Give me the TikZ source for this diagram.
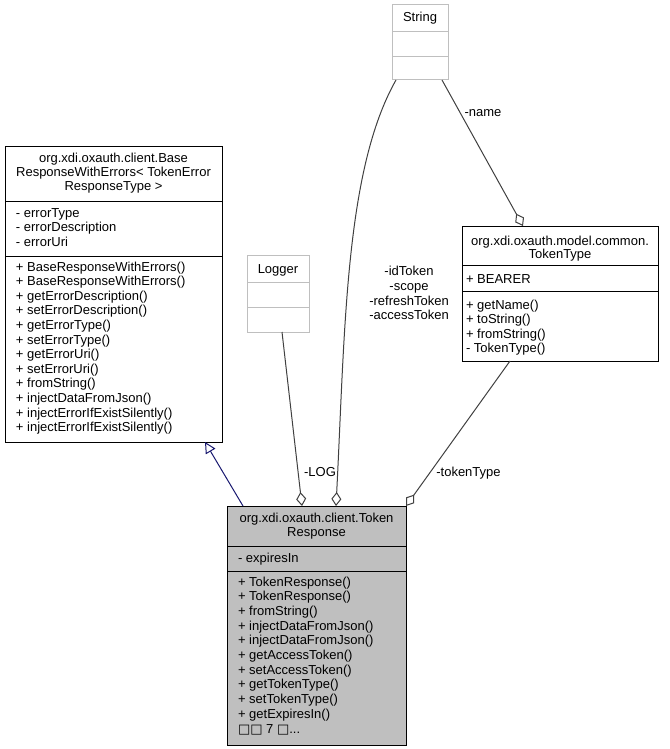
\documentclass[tikz,border=0pt]{standalone}
\usepackage{fontspec}
\setmainfont{Liberation Sans}
\newfontfamily\symfont{DejaVu Sans}
\usetikzlibrary{arrows.meta,calc}
\definecolor{edgegray}{HTML}{404040}
\definecolor{navyline}{HTML}{191970}
\definecolor{lightframe}{HTML}{BFBFBF}
\definecolor{trfill}{HTML}{BFBFBF}
\begin{document}
\begin{tikzpicture}[x=1pt,y=-1pt,
  every node/.style={inner sep=0pt, outer sep=0pt},
  txt/.style={font=\fontsize{13}{14.6}\selectfont, anchor=base west},
  ctxt/.style={font=\fontsize{13}{14.6}\selectfont, anchor=base},
  classbox/.style={draw=black, fill=white, line width=1pt, rectangle},
  extbox/.style={draw=lightframe, fill=white, line width=1pt, rectangle},
  sepline/.style={draw=black, line width=1pt},
  extsep/.style={draw=lightframe, line width=1pt},
  comp/.style={draw=edgegray, line width=1pt, -{Diamond[fill=white,length=14pt,width=10pt]}},
  inherit/.style={draw=navyline, line width=1pt, -{Triangle[fill=white,length=11pt,width=11pt]}}
]
\useasboundingbox (0,0) rectangle (669,749);

% ---------- class boxes ----------
\node[classbox, minimum width=217pt, minimum height=296pt] (base) at (113.5,294) {};
\node[classbox, fill=trfill, minimum width=179pt, minimum height=239pt] (tr) at (316.5,625.5) {};
\node[extbox, minimum width=56pt, minimum height=75pt] (string) at (420,42.5) {};
\node[extbox, minimum width=62pt, minimum height=77pt] (logger) at (278,293.5) {};
\node[classbox, minimum width=196pt, minimum height=135pt] (tt) at (560,293.5) {};

% ---------- separators ----------
\draw[sepline] (5,201) -- (222,201);
\draw[sepline] (5,256) -- (222,256);
\draw[sepline] (227,546) -- (406,546);
\draw[sepline] (227,571) -- (406,571);
\draw[extsep] (392,32) -- (448,32);
\draw[extsep] (392,57) -- (448,57);
\draw[extsep] (247,282) -- (309,282);
\draw[extsep] (247,307) -- (309,307);
\draw[sepline] (462,265) -- (658,265);
\draw[sepline] (462,291) -- (658,291);

% ---------- Base class texts ----------
\node[ctxt] (bh1) at (113.5,162.5) {org.xdi.oxauth.client.Base};
\node[ctxt] (bh2) at (113.5,176.5) {ResponseWithErrors< TokenError};
\node[ctxt] (bh3) at (113.5,190.5) {ResponseType >};
\foreach [count=\i] \t in {- errorType, - errorDescription, - errorUri}
  \node[txt] (ba\i) at (16,{217+14.5*(\i-1)}) {\t};
\foreach [count=\i] \t in {+ BaseResponseWithErrors(), + BaseResponseWithErrors(),
  + getErrorDescription(), + setErrorDescription(), + getErrorType(),
  + setErrorType(), + getErrorUri(), + setErrorUri(), + fromString(),
  + injectDataFromJson(), + injectErrorIfExistSilently(), + injectErrorIfExistSilently()}
  \node[txt] (bm\i) at (16,{271+14.6*(\i-1)}) {\t};

% ---------- TokenResponse texts ----------
\node[ctxt] (th1) at (316.5,522) {org.xdi.oxauth.client.Token};
\node[ctxt] (th2) at (316.5,536.5) {Response};
\node[txt] (ta1) at (238,562.5) {- expiresIn};
\foreach [count=\i] \t in {+ TokenResponse(), + TokenResponse(), + fromString(),
  + injectDataFromJson(), + injectDataFromJson(), + getAccessToken(),
  + setAccessToken(), + getTokenType(), + setTokenType(), + getExpiresIn()}
  \node[txt] (tm\i) at (238,{586+14.7*(\i-1)}) {\t};
\node[txt] (tmore) at (238,733) {{\symfont □□} 7 {\symfont □}...};

% ---------- String / Logger ----------
\node[ctxt] (st) at (420,22) {String};
\node[ctxt] (lg) at (278,273) {Logger};

% ---------- TokenType texts ----------
\node[ctxt] (yh1) at (560,245) {org.xdi.oxauth.model.common.};
\node[ctxt] (yh2) at (560,258.5) {TokenType};
\node[txt] (ya1) at (466,283.5) {+ BEARER};
\foreach [count=\i] \t in {+ getName(), + toString(), + fromString(), - TokenType()}
  \node[txt] (ym\i) at (466,{309.5+14.3*(\i-1)}) {\t};

% ---------- connectors ----------
\draw[inherit] ($(tr.north west)+(16,0)$) -- ($(base.south east)+(-17,0)$);
\draw[comp] ($(logger.south)+(4,0)$) -- ($(tr.north west)+(75,0)$);
\draw[comp] ($(string.south west)+(4,0)$) .. controls (345,170) and (345,330) .. ($(tr.north west)+(109,0)$);
\draw[comp] ($(string.south east)+(-6,0)$) -- ($(tt.north west)+(61,0)$);
\draw[comp] ($(tt.south west)+(48,0)$) -- (tr.north east);

% ---------- connector labels ----------
\node[ctxt] (lLOG) at (320,476.5) {-LOG};
\node[ctxt] (lname) at (483,116.5) {-name};
\node[ctxt] (ltok) at (468.5,476) {-tokenType};
\foreach [count=\i] \t in {-idToken, -scope, -refreshToken, -accessToken}
  \node[ctxt] (ls\i) at (409,{275.5+14.8*(\i-1)}) {\t};
\end{tikzpicture}
\end{document}
